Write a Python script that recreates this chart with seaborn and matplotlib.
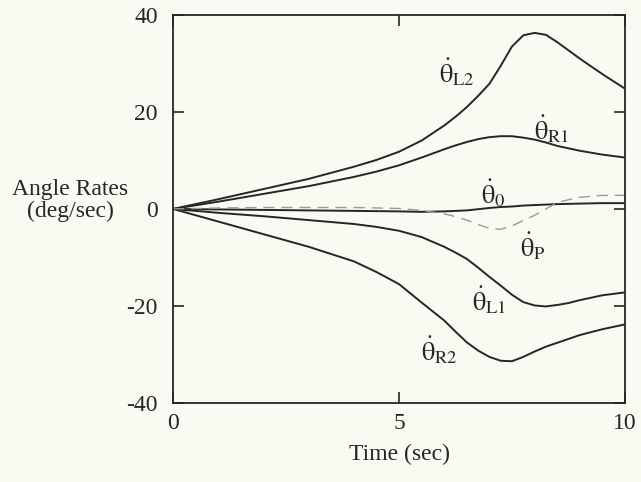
import matplotlib
matplotlib.use("Agg")
import matplotlib.pyplot as plt
import seaborn as sns

# Data
time = [0, 1, 2, 3, 4, 4.5, 5, 5.5, 6, 6.25, 6.5, 6.75, 7, 7.25, 7.5, 7.75, 8, 8.25, 8.5, 8.75, 9, 9.5, 10]
theta_L2 = [0, 2.0, 4.1, 6.2, 8.7, 10.1, 11.8, 14.1, 17.2, 19.0, 21.0, 23.3, 25.8, 29.5, 33.5, 35.8, 36.3, 35.9, 34.4, 32.7, 31.0, 27.8, 24.8]
theta_R1 = [0, 1.5, 3.1, 4.7, 6.6, 7.7, 9.0, 10.6, 12.3, 13.1, 13.8, 14.4, 14.8, 15.0, 15.0, 14.7, 14.3, 13.7, 13.0, 12.5, 12.0, 11.2, 10.6]
theta_0 = [0, -0.1, -0.2, -0.3, -0.4, -0.45, -0.5, -0.6, -0.5, -0.4, -0.3, -0.05, 0.2, 0.4, 0.5, 0.7, 0.8, 0.9, 1.0, 1.05, 1.1, 1.2, 1.2]
theta_P = [0, 0.2, 0.3, 0.3, 0.3, 0.2, 0.1, -0.3, -1.0, -1.6, -2.3, -3.2, -4.0, -4.2, -3.5, -2.4, -1.3, 0.0, 1.3, 1.9, 2.4, 2.8, 2.8]
theta_L1 = [0, -0.8, -1.5, -2.3, -3.1, -3.7, -4.5, -5.8, -7.8, -9.0, -10.3, -12.1, -14.0, -15.8, -17.7, -19.2, -19.9, -20.1, -19.8, -19.4, -18.8, -17.8, -17.2]
theta_R2 = [0, -2.6, -5.2, -7.8, -10.8, -13.0, -15.5, -19.3, -23.0, -25.3, -27.5, -29.2, -30.5, -31.3, -31.4, -30.5, -29.4, -28.4, -27.6, -26.8, -26.0, -24.8, -23.8]

labels = ["L2", "R1", "0", "P", "L1", "R2"]
label_x = [6.28, 8.38, 7.08, 7.96, 7.0, 5.9]
label_y = [28.3, 16.4, 3.3, -7.6, -18.9, -29.1]

x_ticks = [0, 5, 10]
y_ticks = [-40, -20, 0, 20, 40]

sns.set_theme(style="ticks")
plt.rcParams["font.family"] = ["Liberation Serif", "DejaVu Serif"]
plt.rcParams["mathtext.fontset"] = "stix"

bg = "#fafaf2"
ink = "#262626"

fig = plt.figure(figsize=(6.41, 4.82), dpi=100, facecolor=bg)
ax = fig.add_axes([0.270, 0.164, 0.705, 0.805])
ax.set_facecolor(bg)

series = [theta_L2, theta_R1, theta_0, theta_L1, theta_R2]
for s in series:
    sns.lineplot(x=time, y=s, ax=ax, color=ink, linewidth=1.4)
sns.lineplot(x=time, y=theta_P, ax=ax, color="#9a9a9a", linewidth=1.0,
             linestyle=(0, (8, 5)))

for lab, lx, ly in zip(labels, label_x, label_y):
    ax.text(lx, ly, r"$\dot{\mathrm{\theta}}_{\mathrm{" + lab + "}}$", fontsize=19,
            ha="center", va="center", color=ink)

ax.set_xlim(0, 10)
ax.set_ylim(-40, 40)
ax.set_xticks(x_ticks)
ax.set_yticks(y_ticks)
ax.set_xticklabels([str(v) for v in x_ticks])
ax.set_yticklabels([str(v) for v in y_ticks])
ax.tick_params(axis="both", direction="in", top=True, right=True,
               length=8, width=1.2, colors=ink, labelsize=17, labelcolor=ink)
ax.tick_params(axis="y", pad=11)
ax.tick_params(axis="x", pad=7)
for sp in ax.spines.values():
    sp.set_visible(True)
    sp.set_color(ink)
    sp.set_linewidth(1.3)

ax.set_xlabel("Time (sec)", fontsize=17, color=ink)
ax.xaxis.set_label_coords(0.5, -0.105)
ax.set_ylabel("Angle Rates\n(deg/sec)", fontsize=17, color=ink, rotation=0,
              ha="center", va="center", linespacing=1.05)
ax.yaxis.set_label_coords(-0.228, 0.523)

fig.savefig("out.png", dpi=100, facecolor=bg)
